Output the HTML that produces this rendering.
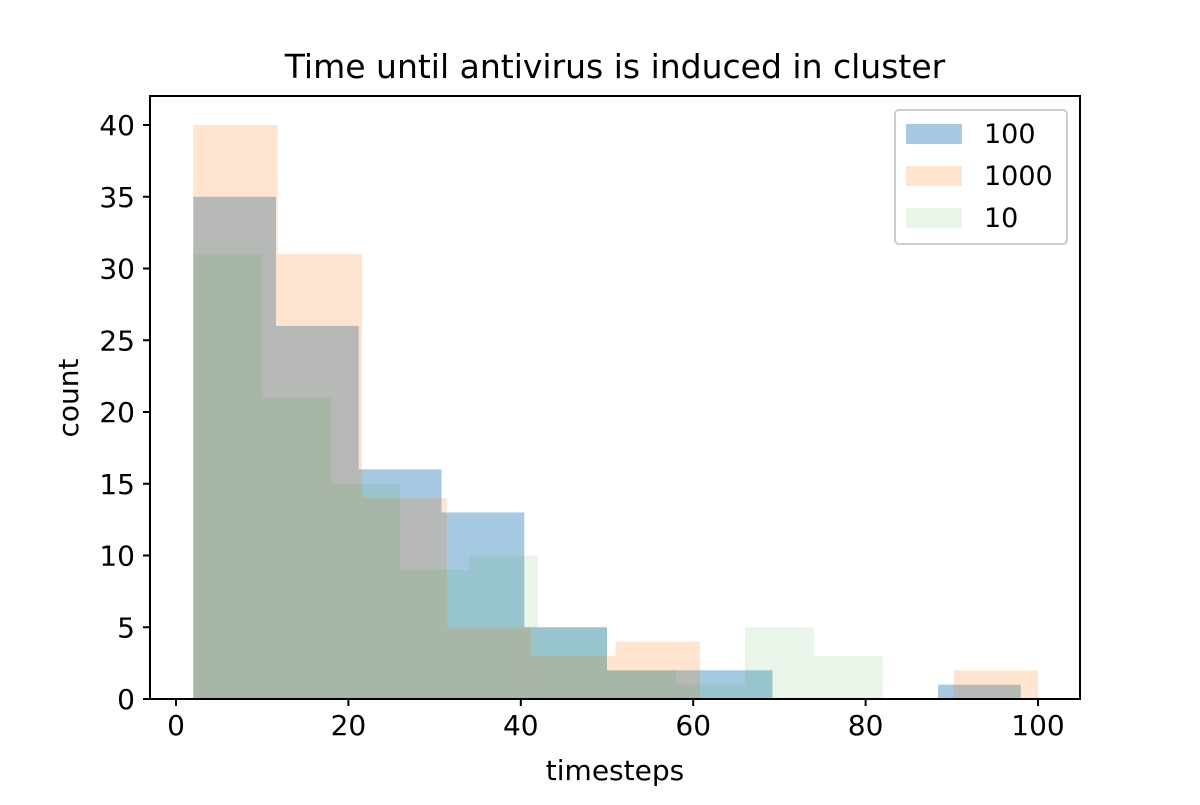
<!DOCTYPE html>
<html><head><meta charset="utf-8"><style>
body{margin:0;background:#fff}
svg text{font-family:"DejaVu Sans","Liberation Sans",sans-serif}
</style></head><body>
<svg id="chart" width="1200" height="800" xmlns="http://www.w3.org/2000/svg">
<text x="615" y="78" font-size="33" text-anchor="middle">Time until antivirus is induced in cluster</text>
<g id="bars"></g>
<g id="axes"></g>
<text x="615" y="780" font-size="28" text-anchor="middle">timesteps</text>
<text x="78" y="398" font-size="28" text-anchor="middle" transform="rotate(-90 78 398)">count</text>
<g>
<rect x="895" y="110" width="172" height="134" rx="4" fill="#fff" fill-opacity="0.8" stroke="#ccc" stroke-width="2"/>
<rect x="906" y="124" width="56" height="20" fill="#1f77b4" fill-opacity="0.4"/>
<text x="984" y="143" font-size="27">100</text>
<rect x="906" y="166" width="56" height="20" fill="#ff7f0e" fill-opacity="0.2"/>
<text x="984" y="185" font-size="27">1000</text>
<rect x="906" y="208" width="56" height="20" fill="#2ca02c" fill-opacity="0.1"/>
<text x="984" y="227" font-size="27">10</text>
</g>
</svg>
<script>
const xTicks=[0,20,40,60,80,100];
const yTicks=[0,5,10,15,20,25,30,35,40];
const range100=[2,98];
const counts100=[35,26,16,13,5,2,2,0,0,1];
const range1000=[2,100];
const counts1000=[40,31,14,5,3,4,0,0,0,2];
const range10=[2,82];
const counts10=[31,21,15,9,10,5,2,1,5,3];
const X=v=>176+v*8.62;
const Y=v=>699-v*14.35;
const NS="http://www.w3.org/2000/svg";
const bars=document.getElementById('bars'),axes=document.getElementById('axes');
function mk(t,a,p){const e=document.createElementNS(NS,t);for(const k in a)e.setAttribute(k,a[k]);p.appendChild(e);return e;}
function hist(range,counts,color,op,name){
  const w=(range[1]-range[0])/counts.length;
  counts.forEach((c,i)=>{
    if(c<=0)return;
    const x0=X(range[0]+i*w),x1=X(range[0]+(i+1)*w);
    const r=mk('rect',{x:x0,y:Y(c),width:x1-x0,height:Y(0)-Y(c),fill:color,'fill-opacity':op},bars);
    
    
  });
}
hist(range100,counts100,'#1f77b4',0.4,'series-100');
hist(range1000,counts1000,'#ff7f0e',0.2,'series-1000');
hist(range10,counts10,'#2ca02c',0.1,'series-10');
const frame=mk('rect',{x:150,y:96,width:930,height:603,fill:'none',stroke:'#000','stroke-width':2},axes);


xTicks.forEach(t=>{
  mk('line',{x1:X(t),x2:X(t),y1:699,y2:706,stroke:'#000','stroke-width':2},axes);
  const tx=mk('text',{x:X(t),y:735,'font-size':28,'text-anchor':'middle'},axes);tx.textContent=t;
  
  
});
yTicks.forEach(t=>{
  mk('line',{x1:143,x2:150,y1:Y(t),y2:Y(t),stroke:'#000','stroke-width':2},axes);
  const tx=mk('text',{x:135,y:Y(t)+10,'font-size':28,'text-anchor':'end'},axes);tx.textContent=t;
  
  
});
</script>
</body></html>
